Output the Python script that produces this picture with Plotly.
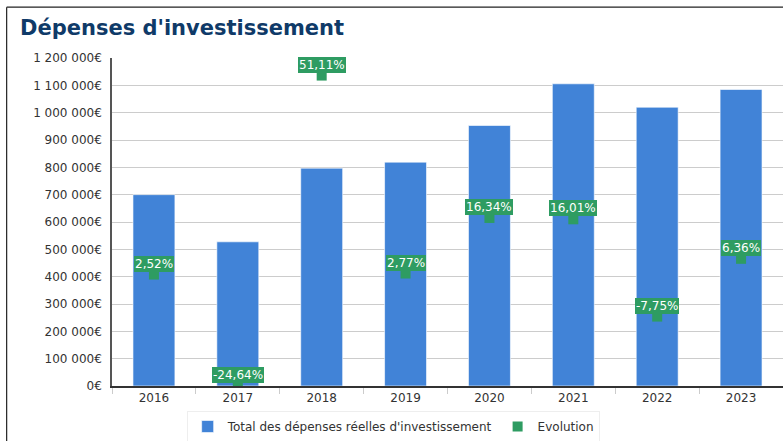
import plotly.graph_objects as go

years = ["2016", "2017", "2018", "2019", "2020", "2021", "2022", "2023"]
depenses = [700000, 527500, 797000, 819000, 953000, 1105600, 1019900, 1084800]
evolution = [2.52, -24.64, 51.11, 2.77, 16.34, 16.01, -7.75, 6.36]
y_ticks = [0, 100000, 200000, 300000, 400000, 500000, 600000, 700000,
           800000, 900000, 1000000, 1100000, 1200000]


def fmt_eur(v):
    return f"{v:,.0f}".replace(",", " ") + "€"


def fmt_pct(v):
    return f"{v:.2f}".replace(".", ",") + "%"


BLUE = "#4183d7"
GREEN = "#2e9c62"
FONT = "DejaVu Sans"

fig = go.Figure()
fig.add_trace(go.Bar(
    x=years, y=depenses, name="Total des dépenses réelles d'investissement",
    marker=dict(color=BLUE, line=dict(color="rgba(255,255,255,0.6)", width=1)),
))
fig.add_trace(go.Scatter(
    x=years, y=evolution, name="Evolution", yaxis="y2", mode="markers",
    marker=dict(symbol="square", size=10, color=GREEN),
))

for i, v in enumerate(evolution):
    fig.add_annotation(
        x=i, y=v, xref="x", yref="y2", text=fmt_pct(v), showarrow=False,
        yshift=11, bgcolor=GREEN, borderpad=1, borderwidth=0,
        font=dict(family=FONT, size=12, color="white"),
    )

# outer frame lines (left and top)
fig.add_shape(type="line", xref="paper", yref="paper",
              x0=-0.157, x1=-0.157, y0=-0.3, y1=1.155,
              line=dict(color="#222", width=1.2))
fig.add_shape(type="line", xref="paper", yref="paper",
              x0=-0.157, x1=1.05, y0=1.155, y1=1.155,
              line=dict(color="#222", width=1.2))

fig.update_layout(
    width=783, height=441,
    margin=dict(l=112, r=0, t=58, b=55),
    paper_bgcolor="white", plot_bgcolor="white",
    font=dict(family=FONT, size=12, color="#333"),
    title=dict(text="<b>Dépenses d'investissement</b>", x=20 / 783, xanchor="left",
               y=1 - 28 / 441, yanchor="middle",
               font=dict(family=FONT, size=21, color="#0f3a68")),
    bargap=0.5,
    showlegend=True,
    legend=dict(orientation="h", x=0.419, xanchor="center",
                yref="container", y=(441 - 411) / 441, yanchor="top",
                bordercolor="#eeeeee", borderwidth=1, bgcolor="white",
                font=dict(family=FONT, size=12, color="#333")),
    xaxis=dict(type="category", range=[-0.5, 7.5], automargin=False,
               showline=True, linecolor="#333", linewidth=1.5,
               ticks="outside", tickson="boundaries", ticklen=6, tickcolor="#ccc",
               showgrid=False, tickfont=dict(size=12, color="#333")),
    yaxis=dict(range=[0, 1200000], tickvals=y_ticks, automargin=False,
               ticktext=[fmt_eur(v) for v in y_ticks],
               showline=True, linecolor="#555", linewidth=1.5,
               gridcolor="#cccccc", gridwidth=1, zeroline=False,
               ticks="", ticklabelstandoff=6, tickfont=dict(size=12, color="#333")),
    yaxis2=dict(range=[-24.7, 55.4], overlaying="y", side="right", visible=False),
)

fig.write_html("out.html", config={"displayModeBar": False},
               post_script="document.body.style.margin='0';")
